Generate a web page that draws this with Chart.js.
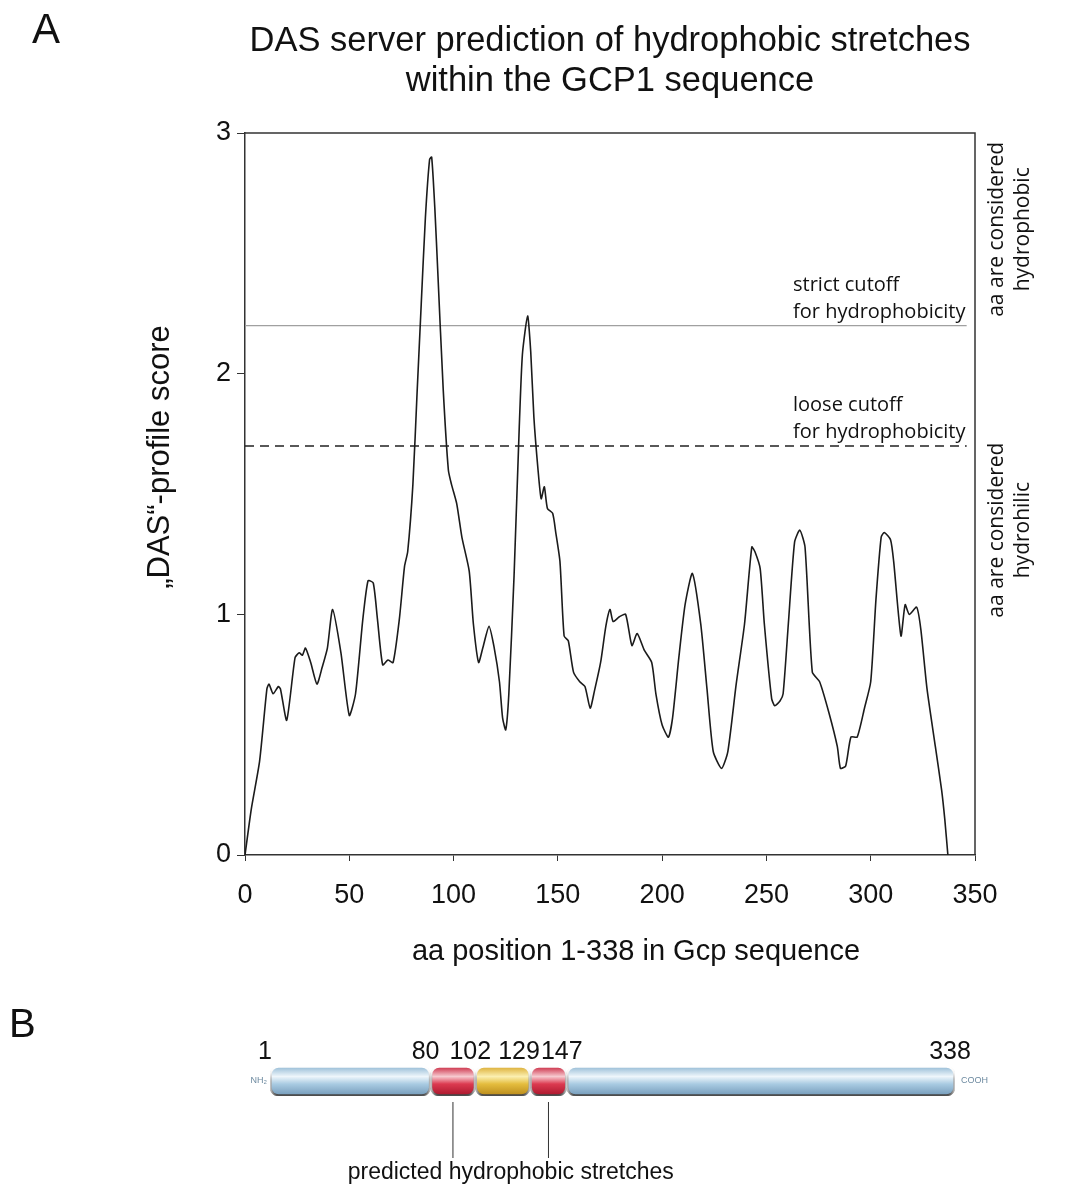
<!DOCTYPE html>
<html>
<head>
  <meta charset="UTF-8">
  <title>DAS hydrophobicity profile of GCP1</title>
  <script src="https://cdn.jsdelivr.net/npm/chart.js"></script>
  <style>
    body {
      margin: 0;
      background: #fff;
    }

    #panelA {
      position: absolute;
      left: 0;
      top: 0;
      width: 1083px;
      height: 990px;
    }

    #panelB {
      position: absolute;
      left: 0;
      top: 990px;
      width: 1083px;
      height: 198px;
    }
  </style>
</head>
<body>
  <div id="panelA"><canvas id="profileChart"></canvas></div>
  <div id="panelB"><canvas id="domainChart"></canvas></div>

  <script>
    // DAS profile (aa position, score)
    const positions = [0, 3, 7, 10.5, 11.5, 13.5, 16, 17, 20, 24, 26, 27.5, 29, 31.5, 34.5, 37, 39.5, 42, 46, 50,
      53, 56.5, 59, 61.5, 63.5, 66, 68.5, 71, 74, 76.5, 78, 80.5, 82.5, 84.5, 86.5, 88.5, 89.5, 91, 92.5, 95,
      97.5, 99, 101.5, 104, 107.5, 109.5, 112, 114, 117, 119.5, 122, 123.5, 125, 126.5, 129, 131.5, 133, 135.5, 137, 138.5,
      140.5, 142, 143.5, 145, 147.5, 149, 151, 153, 155, 157.5, 160.5, 163, 165.5, 167.5, 170.5, 173, 175, 176.5, 179.5, 182.5,
      185.5, 188, 191.5, 195, 197, 200, 203, 205, 208, 211, 214.5, 218.5, 221.5, 224.5, 228.5, 231.5, 235.5, 239.5, 243, 244.5,
      247, 249, 252.5, 254, 256.5, 258, 260.5, 263.5, 266, 268.5, 272, 275.5, 280, 284, 285.5, 288, 290.5, 293.5, 297, 300,
      302.5, 305, 306.5, 309.5, 311, 314.5, 316.5, 318.5, 322, 324, 327, 331, 334, 335.5, 337];
    const scores = [0, 0.19, 0.39, 0.69, 0.71, 0.67, 0.70, 0.69, 0.56, 0.82, 0.84, 0.83, 0.86, 0.80, 0.71, 0.78, 0.86, 1.02, 0.84, 0.58,
      0.67, 0.98, 1.14, 1.13, 0.98, 0.79, 0.81, 0.80, 0.98, 1.20, 1.26, 1.54, 1.92, 2.29, 2.65, 2.89, 2.90, 2.69, 2.41, 1.94,
      1.60, 1.54, 1.46, 1.32, 1.18, 0.96, 0.80, 0.86, 0.95, 0.86, 0.72, 0.57, 0.52, 0.67, 1.16, 1.78, 2.08, 2.24, 2.09, 1.82,
      1.60, 1.48, 1.53, 1.44, 1.42, 1.34, 1.22, 0.91, 0.89, 0.76, 0.72, 0.70, 0.61, 0.68, 0.80, 0.95, 1.02, 0.97, 0.99, 1.00,
      0.87, 0.92, 0.85, 0.80, 0.67, 0.54, 0.49, 0.57, 0.82, 1.04, 1.17, 0.96, 0.69, 0.43, 0.36, 0.43, 0.71, 0.96, 1.28, 1.26,
      1.19, 0.96, 0.65, 0.62, 0.64, 0.67, 0.96, 1.30, 1.35, 1.28, 0.76, 0.72, 0.59, 0.45, 0.36, 0.37, 0.49, 0.49, 0.61, 0.72,
      1.06, 1.32, 1.34, 1.31, 1.22, 0.91, 1.04, 1.00, 1.03, 0.94, 0.69, 0.45, 0.27, 0.15, 0];

    const strictCutoff = 2.2;
    const looseCutoff = 1.7;
    const cutoffSpan = [0, 346];

    const xTicks = [0, 50, 100, 150, 200, 250, 300, 350];
    const yTicks = [0, 1, 2, 3];

    // panel B: domain map of GCP1
    const domainStarts = [1, 80, 102, 129, 147];
    const domainEnds = [80, 102, 129, 147, 338];
    const domainKinds = ['coil', 'stretch', 'middle', 'stretch', 'coil'];
    const boundaryLabels = [1, 80, 102, 129, 147, 338];

    const sansFont = '"Liberation Sans", Arial, sans-serif';
    const noteFont = '"Open Sans", "DejaVu Sans", sans-serif';
    Chart.defaults.font.family = sansFont;
    Chart.defaults.color = '#111';

    // frame, axis titles + side notes of panel A
    const panelAText = {
      id: 'panelAText',
      afterDraw(chart) {
        const { ctx, chartArea: a, scales: { y } } = chart;
        ctx.save();
        ctx.strokeStyle = '#333';
        ctx.lineWidth = 1.5;
        ctx.beginPath();
        ctx.moveTo(a.left, a.top);
        ctx.lineTo(a.right, a.top);
        ctx.lineTo(a.right, a.bottom);
        ctx.stroke();

        ctx.fillStyle = '#111';
        ctx.textBaseline = 'middle';
        ctx.textAlign = 'left';
        ctx.font = '42px ' + sansFont;
        ctx.fillText('A', 32, 31);

        // axis titles are off-centre in the original
        ctx.textAlign = 'center';
        ctx.font = '29px ' + sansFont;
        ctx.fillText('aa position 1-338 in Gcp sequence', 636, 952);

        ctx.save();
        ctx.translate(160, 457);
        ctx.rotate(-Math.PI / 2);
        ctx.font = '31px ' + sansFont;
        ctx.fillText('\u201EDAS\u201C-profile score', 0, 0);
        ctx.restore();

        ctx.textAlign = 'left';
        ctx.font = '20px ' + noteFont;
        const noteX = a.right - 182;
        const ys = y.getPixelForValue(strictCutoff);
        const yl = y.getPixelForValue(looseCutoff);
        ctx.fillText('strict cutoff', noteX, ys - 40);
        ctx.fillText('for hydrophobicity', noteX, ys - 13);
        ctx.fillText('loose cutoff', noteX, yl - 41);
        ctx.fillText('for hydrophobicity', noteX, yl - 14);

        // rotated notes at the right
        ctx.font = '21px ' + noteFont;
        function sideNote(lines, value) {
          const cy = y.getPixelForValue(value);
          ctx.save();
          ctx.translate(a.right + 22, cy);
          ctx.rotate(-Math.PI / 2);
          ctx.textAlign = 'center';
          ctx.fillText(lines[0], 0, 0);
          ctx.fillText(lines[1], 0, 26);
          ctx.restore();
        }
        sideNote(['aa are considered', 'hydrophobic'], 2.6);
        sideNote(['aa are considered', 'hydrohilic'], 1.35);
        ctx.restore();
      }
    };

    new Chart(document.getElementById('profileChart'), {
      type: 'line',
      data: {
        datasets: [
          {
            label: 'DAS profile',
            data: positions.map((p, i) => ({ x: p, y: scores[i] })),
            borderColor: '#1b1b1b',
            borderWidth: 1.6,
            pointRadius: 0,
            tension: 0.2
          },
          {
            label: 'strict cutoff',
            data: cutoffSpan.map(p => ({ x: p, y: strictCutoff })),
            borderColor: '#a0a0a0',
            borderWidth: 1.2,
            pointRadius: 0
          },
          {
            label: 'loose cutoff',
            data: cutoffSpan.map(p => ({ x: p, y: looseCutoff })),
            borderColor: '#222',
            borderWidth: 1.5,
            borderDash: [9, 6],
            pointRadius: 0
          }
        ]
      },
      options: {
        responsive: true,
        maintainAspectRatio: false,
        animation: false,
        layout: { padding: { left: 130, right: 108, top: 0, bottom: 0 } },
        plugins: {
          legend: { display: false },
          tooltip: { enabled: false },
          title: {
            display: true,
            fullSize: false,
            text: ['DAS server prediction of hydrophobic stretches', 'within the GCP1 sequence'],
            font: { size: 34.5, weight: 'normal', lineHeight: 1.16 },
            color: '#111',
            padding: { top: 21, bottom: 32 }
          }
        },
        scales: {
          x: {
            type: 'linear',
            min: 0,
            max: 350,
            afterBuildTicks: s => { s.ticks = xTicks.map(v => ({ value: v })); },
            afterFit: s => { s.height = 135; },
            ticks: { font: { size: 27 }, color: '#111', padding: 18 },
            grid: { drawOnChartArea: false, tickLength: 6, color: '#333' },
            border: { color: '#333', width: 1.5 }
          },
          y: {
            min: 0,
            max: 3,
            afterBuildTicks: s => { s.ticks = yTicks.map(v => ({ value: v })); },
            afterFit: s => { s.width = 115; },
            ticks: { font: { size: 27 }, color: '#111', padding: 6 },
            grid: { drawOnChartArea: false, tickLength: 8, color: '#333' },
            border: { color: '#333', width: 1.5 }
          }
        }
      },
      plugins: [panelAText]
    });

    // ---- panel B ----
    const kindColors = {
      coil: ['#8fb7d3', '#eef6fb', '#a9cbe2', '#7299b8'],
      stretch: ['#c8203a', '#f6c9cf', '#dc3a50', '#a8152b'],
      middle: ['#d9a82a', '#fbefb0', '#e4bd3e', '#b8881a']
    };

    function segmentFill(kind) {
      return function (c) {
        const area = c.chart.chartArea;
        const cols = kindColors[kind];
        if (!area) return cols[2];
        const g = c.chart.ctx.createLinearGradient(0, area.top, 0, area.bottom);
        g.addColorStop(0, cols[0]);
        g.addColorStop(0.35, cols[1]);
        g.addColorStop(0.6, cols[2]);
        g.addColorStop(1, cols[3]);
        return g;
      };
    }

    const barShadow = {
      id: 'barShadow',
      beforeDatasetsDraw(chart) {
        const ctx = chart.ctx;
        ctx.save();
        ctx.shadowColor = 'rgba(0,0,0,0.75)';
        ctx.shadowBlur = 5;
        ctx.shadowOffsetY = 5;
      },
      afterDatasetsDraw(chart) {
        chart.ctx.restore();
      }
    };

    const panelBText = {
      id: 'panelBText',
      afterDraw(chart) {
        const { ctx, chartArea: a, scales: { x } } = chart;
        ctx.save();
        ctx.fillStyle = '#111';
        ctx.textBaseline = 'middle';
        ctx.textAlign = 'left';
        ctx.font = '40px ' + sansFont;
        ctx.fillText('B', 9, 36);

        // boundary numbers, pushed apart where they would collide
        ctx.font = '25px ' + sansFont;
        const labs = boundaryLabels.map(v => {
          const w = ctx.measureText(String(v)).width;
          return { t: String(v), w: w, cx: x.getPixelForValue(v) - 5 };
        });
        for (let i = labs.length - 2; i >= 0; i--) {
          const right = labs[i].cx + labs[i].w / 2;
          const nextLeft = labs[i + 1].cx - labs[i + 1].w / 2;
          if (right > nextLeft - 1) labs[i].cx -= right - nextLeft + 1;
        }
        ctx.textAlign = 'center';
        labs.forEach(l => ctx.fillText(l.t, l.cx, 62));

        // termini
        const midY = (a.top + a.bottom) / 2;
        ctx.font = '9px ' + sansFont;
        ctx.fillStyle = '#6d8aa0';
        ctx.textAlign = 'right';
        ctx.fillText('NH\u2082', a.left - 3, midY);
        ctx.textAlign = 'left';
        ctx.fillText('COOH', a.right + 6, midY);

        // leader lines to the predicted stretches
        const leaders = [];
        domainKinds.forEach((k, i) => {
          if (k === 'stretch') leaders.push(x.getPixelForValue((domainStarts[i] + domainEnds[i]) / 2));
        });
        ctx.strokeStyle = '#333';
        ctx.lineWidth = 1;
        leaders.forEach(px => {
          ctx.beginPath();
          ctx.moveTo(px, a.bottom + 6);
          ctx.lineTo(px, 168);
          ctx.stroke();
        });
        ctx.fillStyle = '#111';
        ctx.textAlign = 'center';
        ctx.font = '23px ' + sansFont;
        const capX = (leaders[0] + leaders[leaders.length - 1]) / 2 + 10;
        ctx.fillText('predicted hydrophobic stretches', capX, 183);
        ctx.restore();
      }
    };

    new Chart(document.getElementById('domainChart'), {
      type: 'bar',
      data: {
        labels: ['GCP1'],
        datasets: domainStarts.map((s, i) => ({
          label: domainKinds[i] + ' ' + s + '-' + domainEnds[i],
          data: [[s, domainEnds[i]]],
          backgroundColor: segmentFill(domainKinds[i]),
          borderColor: '#ffffff',
          borderWidth: 2,
          borderSkipped: false,
          borderRadius: 9,
          grouped: false,
          barPercentage: 1,
          categoryPercentage: 1
        }))
      },
      options: {
        indexAxis: 'y',
        responsive: true,
        maintainAspectRatio: false,
        animation: false,
        layout: { padding: { left: 270, right: 128, top: 76, bottom: 92 } },
        plugins: { legend: { display: false }, tooltip: { enabled: false } },
        scales: {
          x: { type: 'linear', min: 1, max: 338, display: false },
          y: { display: false }
        }
      },
      plugins: [barShadow, panelBText]
    });
  </script>
</body>
</html>
